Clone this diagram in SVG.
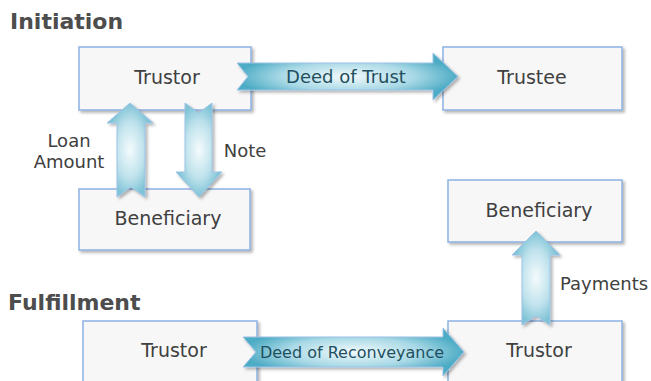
<svg xmlns="http://www.w3.org/2000/svg" width="651" height="381" viewBox="0 0 651 381">
<defs>
<filter id="sh" x="-10%" y="-10%" width="130%" height="130%">
<feDropShadow dx="2" dy="2" stdDeviation="1.5" flood-color="#000" flood-opacity="0.3"/>
</filter>
<radialGradient id="gh" cx="0.5" cy="0.5" r="0.5">
<stop offset="0" stop-color="#f2fafc"/>
<stop offset="0.6" stop-color="#a9d9e6"/>
<stop offset="1" stop-color="#4eacc5"/>
</radialGradient>
<radialGradient id="gv" cx="0.5" cy="0.5" r="0.5">
<stop offset="0" stop-color="#f4fbfd"/>
<stop offset="0.6" stop-color="#bfe2ec"/>
<stop offset="1" stop-color="#7ec3d6"/>
</radialGradient>
</defs>
<style>
.box{fill:#f7f7f7;stroke:#8db3e2;stroke-width:1.5;filter:url(#sh)}
.title{font-family:"DejaVu Sans",sans-serif;font-weight:bold;font-size:22px;fill:#4d4d4d}
.nt{font-family:"DejaVu Sans",sans-serif;font-size:19px;fill:#404040;text-anchor:middle}
.lb{font-family:"DejaVu Sans",sans-serif;font-size:18px;fill:#404040;text-anchor:middle}
.al{font-family:"DejaVu Sans",sans-serif;font-size:18px;fill:#1f4f60;text-anchor:middle}
.ah{fill:url(#gh);stroke:#9cc3e6;stroke-width:1;filter:url(#sh)}
.av{fill:url(#gv);stroke:#9cc3e6;stroke-width:1;filter:url(#sh)}
</style>
<text class="title" x="10" y="29">Initiation</text>
<text class="title" x="8" y="310">Fulfillment</text>
<g id="trustor1"><rect class="box" x="79" y="47" width="172" height="63"/><text class="nt" x="167" y="84">Trustor</text></g>
<g id="trustee"><rect class="box" x="443" y="47" width="179" height="63"/><text class="nt" x="532" y="84">Trustee</text></g>
<g id="beneficiary1"><rect class="box" x="79" y="189" width="171" height="61"/><text class="nt" x="168" y="225">Beneficiary</text></g>
<g id="beneficiary2"><rect class="box" x="448" y="180" width="174" height="62"/><text class="nt" x="539" y="217">Beneficiary</text></g>
<g id="trustor2"><rect class="box" x="83" y="321" width="174" height="70"/><text class="nt" x="174" y="357">Trustor</text></g>
<g id="trustor3"><rect class="box" x="448" y="321" width="174" height="70"/><text class="nt" x="539" y="357">Trustor</text></g>
<g id="connectors">
<path class="ah" d="M237,63 L433,63 L433,53 L458,76.5 L433,100 L433,90 L237,90 L248,76.5 Z"/>
<text class="al" x="346" y="83">Deed of Trust</text>
<path class="ah" d="M243,337 L443,337 L443,328 L464,352 L443,376 L443,367 L243,367 L256,352 Z"/>
<text class="al" x="352" y="358" style="font-size:16px">Deed of Reconveyance</text>
<path class="av" d="M130,103 L153,123 L145,123 L145,197 L131,187 L117,197 L117,123 L107,123 Z"/>
<path class="av" d="M185,103 L198.5,113 L212,103 L212,172 L222,172 L199,197 L176,172 L185,172 Z"/>
<path class="av" d="M536,231 L560,255 L550,255 L550,325 L536,316 L522,325 L522,255 L512,255 Z"/>
<text class="lb" x="69" y="147">Loan</text>
<text class="lb" x="69" y="168">Amount</text>
<text class="lb" x="245" y="157">Note</text>
<text class="lb" x="604" y="290">Payments</text>
</g>
</svg>
